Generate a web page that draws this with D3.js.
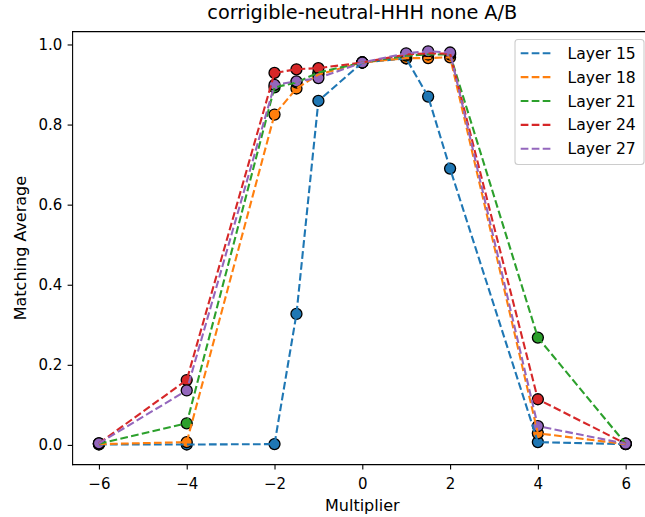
<!DOCTYPE html>
<html>
<head>
<meta charset="utf-8">
<script src="https://cdn.jsdelivr.net/npm/d3@7"></script>
<style>
  html, body { margin: 0; padding: 0; background: #fff; }
  svg { display: block; font-family: "DejaVu Sans", sans-serif; }
</style>
</head>
<body>
<svg id="chart" width="645" height="517"></svg>
<script>
// Steering multipliers on the x axis
const multipliers = [-6, -4, -2, -1.5, -1, 0, 1, 1.5, 2, 4, 6];

// Matching average per layer, one value per multiplier
const layer15 = [0.001, 0.001, 0.002, 0.327, 0.859, 0.955, 0.965, 0.870, 0.690, 0.007, 0.002];
const layer18 = [0.002, 0.007, 0.825, 0.890, 0.925, 0.955, 0.966, 0.966, 0.968, 0.029, 0.002];
const layer21 = [0.003, 0.054, 0.893, 0.905, 0.930, 0.955, 0.972, 0.975, 0.975, 0.268, 0.003];
const layer24 = [0.004, 0.162, 0.929, 0.938, 0.941, 0.955, 0.975, 0.978, 0.977, 0.114, 0.003];
const layer27 = [0.004, 0.136, 0.899, 0.908, 0.916, 0.955, 0.978, 0.983, 0.980, 0.047, 0.003];

const seriesNames = ["Layer 15", "Layer 18", "Layer 21", "Layer 24", "Layer 27"];
const seriesValues = [layer15, layer18, layer21, layer24, layer27];
const seriesColors = ["#1f77b4", "#ff7f0e", "#2ca02c", "#d62728", "#9467bd"];

const xTicks = [-6, -4, -2, 0, 2, 4, 6];
const yTicks = [0.0, 0.2, 0.4, 0.6, 0.8, 1.0];

const titleText = "corrigible-neutral-HHH none A/B";
const xLabel = "Multiplier";
const yLabel = "Matching Average";

// Plot area (the right edge runs past the canvas)
const plotLeft = 72.6, plotRight = 652, plotTop = 31.6, plotBottom = 464.6;

const svg = d3.select("#chart");

// Axis limits with 5% padding around the data
const xMin = d3.min(multipliers), xMax = d3.max(multipliers);
const xPad = (xMax - xMin) * 0.05;
const allVals = seriesValues.flat();
const yMin = Math.min(0, d3.min(allVals)), yMax = d3.max(allVals);
const yPad = (yMax - yMin) * 0.05;

const x = d3.scaleLinear().domain([xMin - xPad, xMax + xPad]).range([plotLeft, plotRight]);
const y = d3.scaleLinear().domain([yMin - yPad, yMax + yPad]).range([plotBottom, plotTop]);

const series = seriesNames.map((name, i) => ({
  name,
  color: seriesColors[i],
  points: multipliers.map((m, j) => ({ m, v: seriesValues[i][j] }))
}));

// Scatter markers sit beneath the dashed lines
const markers = svg.append("g");
series.forEach(s => {
  markers.selectAll(null)
    .data(s.points)
    .join("circle")
    .attr("cx", d => x(d.m))
    .attr("cy", d => y(d.v))
    .attr("r", 5.5)
    .attr("fill", s.color)
    .attr("stroke", "#000")
    .attr("stroke-width", 1.3);
});

const line = d3.line().x(d => x(d.m)).y(d => y(d.v));
const lines = svg.append("g");
series.forEach(s => {
  lines.append("path")
    .attr("d", line(s.points))
    .attr("fill", "none")
    .attr("stroke", s.color)
    .attr("stroke-width", 2.1)
    .attr("stroke-dasharray", "7.7,3.3");
});

// Axes
const xAxis = d3.axisBottom(x).tickValues(xTicks)
  .tickFormat(d => d3.format("d")(d).replace("-", "\u2212"))
  .tickSizeInner(5).tickSizeOuter(0).tickPadding(5.2);
const yAxis = d3.axisLeft(y).tickValues(yTicks)
  .tickFormat(d3.format(".1f"))
  .tickSizeInner(5).tickSizeOuter(0).tickPadding(5.2);

const gx = svg.append("g").attr("transform", `translate(0,${plotBottom})`).call(xAxis);
const gy = svg.append("g").attr("transform", `translate(${plotLeft},0)`).call(yAxis);
[gx, gy].forEach(g => {
  g.select(".domain").remove();
  g.selectAll(".tick line").attr("stroke", "#000").attr("stroke-width", 1.1);
  g.selectAll(".tick text").attr("fill", "#000")
    .style("font-family", "DejaVu Sans").style("font-size", "15px");
});
gx.selectAll(".tick text").attr("dy", "0.98em");

// Frame
[[plotLeft, plotTop, plotLeft, plotBottom], [plotLeft, plotBottom, plotRight, plotBottom],
 [plotLeft, plotTop, plotRight, plotTop], [plotRight, plotTop, plotRight, plotBottom]]
  .forEach(([x1, y1, x2, y2]) => {
    svg.append("line").attr("x1", x1).attr("y1", y1).attr("x2", x2).attr("y2", y2)
      .attr("stroke", "#000").attr("stroke-width", 1.1)
      .attr("stroke-linecap", "square");
  });

// Title and axis labels
svg.append("text")
  .attr("x", (plotLeft + plotRight) / 2).attr("y", 19)
  .attr("text-anchor", "middle")
  .style("font-size", "19.3px")
  .text(titleText);

svg.append("text")
  .attr("x", (plotLeft + plotRight) / 2).attr("y", 511)
  .attr("text-anchor", "middle")
  .style("font-size", "16px")
  .text(xLabel);

svg.append("text")
  .attr("transform", `translate(25.5,${(plotTop + plotBottom) / 2}) rotate(-90)`)
  .attr("text-anchor", "middle")
  .style("font-size", "16px")
  .text(yLabel);

// Legend
const legend = svg.append("g");
const lgLeft = 515, lgTop = 39.5, lgW = 129, lgH = 125;
legend.append("rect")
  .attr("x", lgLeft).attr("y", lgTop).attr("width", lgW).attr("height", lgH)
  .attr("rx", 3).attr("ry", 3)
  .attr("fill", "#fff").attr("fill-opacity", 0.8)
  .attr("stroke", "#cccccc").attr("stroke-width", 1.1);

series.forEach((s, i) => {
  const cy = 53.3 + i * 23.85;
  legend.append("line")
    .attr("x1", 520.7).attr("x2", 553.3).attr("y1", cy).attr("y2", cy)
    .attr("stroke", s.color).attr("stroke-width", 2.1)
    .attr("stroke-dasharray", "7.7,3.3");
  legend.append("text")
    .attr("x", 567.5).attr("y", cy).attr("dy", "0.36em")
    .style("font-size", "15.6px")
    .text(s.name);
});
</script>
</body>
</html>
